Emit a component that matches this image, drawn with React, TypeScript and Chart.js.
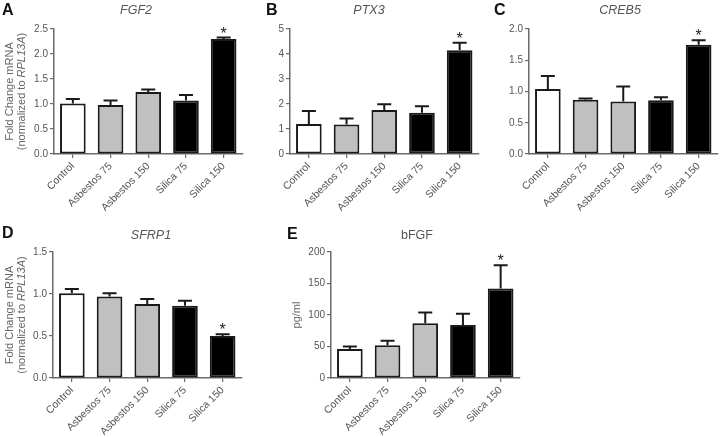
import React, { useEffect, useRef } from "react";
import { Chart, registerables } from "chart.js";

Chart.register(...registerables);

// ---------- data ----------
const categories = ["Control", "Asbestos 75", "Asbestos 150", "Silica 75", "Silica 150"];
const barColors = ["#ffffff", "#c0c0c0", "#c0c0c0", "#000000", "#000000"];
const significant = [false, false, false, false, true];

const fgf2Means = [1.01, 0.98, 1.24, 1.07, 2.3];
const fgf2Errors = [0.09, 0.09, 0.05, 0.11, 0.03];

const ptx3Means = [1.2, 1.18, 1.76, 1.65, 4.15];
const ptx3Errors = [0.52, 0.24, 0.23, 0.26, 0.3];

const creb5Means = [1.04, 0.87, 0.84, 0.86, 1.75];
const creb5Errors = [0.21, 0.02, 0.24, 0.05, 0.07];

const sfrp1Means = [1.01, 0.97, 0.88, 0.86, 0.5];
const sfrp1Errors = [0.05, 0.04, 0.06, 0.06, 0.02];

const bfgfMeans = [46, 52, 87, 84, 142];
const bfgfErrors = [4, 7, 17, 18, 37];

const fgf2Ticks = [0, 0.5, 1.0, 1.5, 2.0, 2.5];
const ptx3Ticks = [0, 1, 2, 3, 4, 5];
const creb5Ticks = [0, 0.5, 1.0, 1.5, 2.0];
const sfrp1Ticks = [0, 0.5, 1.0, 1.5];
const bfgfTicks = [0, 50, 100, 150, 200];

// ---------- layout / style ----------
const FONT = "'Liberation Sans', Arial, Helvetica, sans-serif";
const TEXT = "#555555";
const AXIS = "#6a6a6a";

type Panel = {
  letter: string;
  title: string;
  italic: boolean;
  yTitle: "mrna" | "pg";
  means: number[];
  errors: number[];
  ticks: number[];
  decimals: number;
  canvas: [number, number, number, number]; // x, y, w, h (page)
  plot: [number, number, number, number]; // L, T, R, B (page)
  titlePos: [number, number];
  letterPos: [number, number];
  yTitleX: number;
};

const panels: Panel[] = [
  {
    letter: "A", title: "FGF2", italic: true, yTitle: "mrna",
    means: fgf2Means, errors: fgf2Errors, ticks: fgf2Ticks, decimals: 1,
    canvas: [0, 0, 250, 218], plot: [54, 29, 242.5, 154],
    titlePos: [136, 11], letterPos: [2, 11], yTitleX: 10,
  },
  {
    letter: "B", title: "PTX3", italic: true, yTitle: "mrna",
    means: ptx3Means, errors: ptx3Errors, ticks: ptx3Ticks, decimals: 0,
    canvas: [250, 0, 235, 218], plot: [290, 29, 478.5, 154],
    titlePos: [369, 11], letterPos: [266, 11], yTitleX: -1,
  },
  {
    letter: "C", title: "CREB5", italic: true, yTitle: "mrna",
    means: creb5Means, errors: creb5Errors, ticks: creb5Ticks, decimals: 1,
    canvas: [485, 0, 235, 218], plot: [529, 29, 717.5, 154],
    titlePos: [620, 11], letterPos: [494, 11], yTitleX: -1,
  },
  {
    letter: "D", title: "SFRP1", italic: true, yTitle: "mrna",
    means: sfrp1Means, errors: sfrp1Errors, ticks: sfrp1Ticks, decimals: 1,
    canvas: [0, 218, 250, 219], plot: [53, 252, 241.5, 378],
    titlePos: [151, 236], letterPos: [2, 234], yTitleX: 10,
  },
  {
    letter: "E", title: "bFGF", italic: false, yTitle: "pg",
    means: bfgfMeans, errors: bfgfErrors, ticks: bfgfTicks, decimals: 0,
    canvas: [260, 218, 270, 219], plot: [331, 252, 519.5, 378],
    titlePos: [417, 236], letterPos: [287, 235], yTitleX: 297,
  },
];

function makePlugin(p: Panel) {
  const [cx, cy] = p.canvas;
  return {
    id: "decor" + p.letter,
    afterDatasetsDraw(chart: any) {
      const ctx = chart.ctx as CanvasRenderingContext2D;
      const meta = chart.getDatasetMeta(0);
      const yScale = chart.scales.y;
      ctx.save();
      meta.data.forEach((bar: any, i: number) => {
        const x = bar.x;
        const yBar = bar.y;
        const yTop = yScale.getPixelForValue(p.means[i] + p.errors[i]);
        ctx.strokeStyle = "#1a1a1a";
        ctx.lineWidth = 2;
        ctx.beginPath();
        ctx.moveTo(x, yBar);
        ctx.lineTo(x, yTop);
        ctx.moveTo(x - 7, yTop);
        ctx.lineTo(x + 7, yTop);
        ctx.stroke();
        if (significant[i]) {
          ctx.fillStyle = "#222";
          ctx.font = `16px ${FONT}`;
          ctx.textAlign = "center";
          ctx.textBaseline = "alphabetic";
          ctx.fillText("*", x, yTop + 1);
        }
      });
      ctx.restore();
    },
    afterDraw(chart: any) {
      const ctx = chart.ctx as CanvasRenderingContext2D;
      ctx.save();
      // panel letter
      ctx.fillStyle = "#111";
      ctx.font = `bold 16px ${FONT}`;
      ctx.textAlign = "left";
      ctx.textBaseline = "middle";
      ctx.fillText(p.letter, p.letterPos[0] - cx, p.letterPos[1] - cy);
      // title
      ctx.fillStyle = TEXT;
      ctx.font = `${p.italic ? "italic " : ""}12.5px ${FONT}`;
      ctx.textAlign = "center";
      ctx.fillText(p.title, p.titlePos[0] - cx, p.titlePos[1] - cy);
      // y title
      if (p.yTitleX >= 0) {
        const midY = (p.plot[1] + p.plot[3]) / 2 - cy;
        ctx.translate(p.yTitleX - cx, midY);
        ctx.rotate(-Math.PI / 2);
        ctx.fillStyle = "#666";
        ctx.textBaseline = "middle";
        if (p.yTitle === "pg") {
          ctx.font = `11px ${FONT}`;
          ctx.textAlign = "center";
          ctx.fillText("pg/ml", 0, 0);
        } else {
          ctx.font = `11px ${FONT}`;
          ctx.textAlign = "center";
          ctx.fillText("Fold Change mRNA", 0, 0);
          const parts: [string, boolean][] = [["(normalized to ", false], ["RPL13A", true], [")", false]];
          let total = 0;
          parts.forEach(([t, it]) => {
            ctx.font = `${it ? "italic " : ""}11px ${FONT}`;
            total += ctx.measureText(t).width;
          });
          let x = -total / 2;
          ctx.textAlign = "left";
          parts.forEach(([t, it]) => {
            ctx.font = `${it ? "italic " : ""}11px ${FONT}`;
            ctx.fillText(t, x, 12);
            x += ctx.measureText(t).width;
          });
        }
      }
      ctx.restore();
    },
  };
}

function PanelChart({ p }: { p: Panel }) {
  const ref = useRef<HTMLCanvasElement | null>(null);
  useEffect(() => {
    if (!ref.current) return;
    const [cx, cy, cw, ch] = p.canvas;
    const [L, T, R, B] = p.plot;
    const yw = L - cx;
    const xh = cy + ch - B;
    const chart = new Chart(ref.current, {
      type: "bar",
      data: {
        labels: categories,
        datasets: [
          {
            data: p.means,
            backgroundColor: barColors,
            borderColor: "#1a1a1a",
            borderWidth: 2,
            borderSkipped: false,
            barPercentage: 0.68,
            categoryPercentage: 1,
          },
        ],
      },
      options: {
        animation: false,
        responsive: false,
        maintainAspectRatio: false,
        layout: { padding: { left: 0, top: T - cy, right: cx + cw - R, bottom: 0 } },
        plugins: { legend: { display: false }, tooltip: { enabled: false }, title: { display: false } },
        scales: {
          x: {
            offset: true,
            grid: { display: true, drawOnChartArea: false, drawTicks: true, tickLength: 4, color: AXIS, offset: false, lineWidth: 1.2 },
            border: { display: true, color: AXIS, width: 1.5 },
            ticks: {
              autoSkip: false,
              maxRotation: 45,
              minRotation: 45,
              color: TEXT,
              font: { family: FONT, size: 10.5 },
              padding: 2,
            },
            afterFit: (s: any) => { s.height = xh; },
          },
          y: {
            min: p.ticks[0],
            max: p.ticks[p.ticks.length - 1],
            afterBuildTicks: (s: any) => { s.ticks = p.ticks.map((v) => ({ value: v })); },
            grid: { display: true, drawOnChartArea: false, drawTicks: true, tickLength: 4, color: AXIS, lineWidth: 1.2 },
            border: { display: true, color: AXIS, width: 1.5 },
            ticks: {
              color: TEXT,
              font: { family: FONT, size: 10 },
              padding: 2,
              callback: (v: any) => Number(v).toFixed(p.decimals),
            },
            afterFit: (s: any) => { s.width = yw; },
          },
        },
      },
      plugins: [makePlugin(p)],
    } as any);
    return () => chart.destroy();
  }, [p]);
  const [cx, cy, cw, ch] = p.canvas;
  return (
    <canvas
      ref={ref}
      width={cw}
      height={ch}
      style={{ position: "absolute", left: cx, top: cy, width: cw, height: ch }}
    />
  );
}

export default function App() {
  return (
    <div style={{ position: "absolute", left: 0, top: 0, width: 720, height: 437, background: "#fff", overflow: "hidden" }}>
      {panels.map((p) => (
        <PanelChart key={p.letter} p={p} />
      ))}
    </div>
  );
}
